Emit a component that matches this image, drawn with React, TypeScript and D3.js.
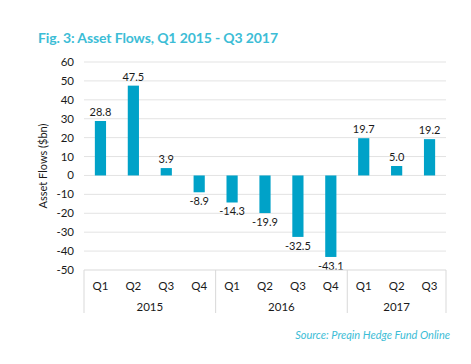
import * as d3 from "d3"
import React, { useEffect, useRef } from "react"

const quarters = ["Q1", "Q2", "Q3", "Q4", "Q1", "Q2", "Q3", "Q4", "Q1", "Q2", "Q3"]
const years = ["2015", "2015", "2015", "2015", "2016", "2016", "2016", "2016", "2017", "2017", "2017"]
const flows = [28.8, 47.5, 3.9, -8.9, -14.3, -19.9, -32.5, -43.1, 19.7, 5.0, 19.2]
const yTicks = [60, 50, 40, 30, 20, 10, 0, -10, -20, -30, -40, -50]

const W = 471
const H = 364
const margin = { left: 84, right: 25, top: 62, bottom: 94 }
const font = "Lato, 'Open Sans', sans-serif"

const App = () => {
  const ref = useRef<SVGSVGElement>(null)

  useEffect(() => {
    const svg = d3.select(ref.current)
    svg.selectAll("*").remove()

    const x = d3
      .scaleBand()
      .domain(flows.map((_, i) => String(i)))
      .range([margin.left, W - margin.right])
    const y = d3.scaleLinear().domain([-50, 60]).range([H - margin.bottom, margin.top])

    svg
      .append("text")
      .attr("x", 38)
      .attr("y", 43)
      .attr("fill", "#3cbdd6")
      .attr("font-family", font)
      .attr("font-weight", "bold")
      .attr("font-size", 14)
      .attr("textLength", 240)
      .text("Fig. 3: Asset Flows, Q1 2015 - Q3 2017")

    // grid lines
    svg
      .append("g")
      .selectAll("line")
      .data(yTicks.filter((t) => t !== -50))
      .join("line")
      .attr("x1", margin.left)
      .attr("x2", W - margin.right)
      .attr("y1", (d) => y(d))
      .attr("y2", (d) => y(d))
      .attr("stroke", "#e3e3e3")
      .attr("stroke-width", 1)

    svg
      .append("g")
      .selectAll("text")
      .data(yTicks)
      .join("text")
      .attr("x", 74)
      .attr("y", (d) => y(d))
      .attr("dy", "0.35em")
      .attr("text-anchor", "end")
      .attr("font-family", font)
      .attr("font-size", 11.5)
      .attr("fill", "#1a1a1a")
      .text((d) => d)

    svg
      .append("text")
      .attr("transform", `translate(47,${y(5)}) rotate(-90)`)
      .attr("text-anchor", "middle")
      .attr("font-family", font)
      .attr("font-size", 11)
      .attr("fill", "#1a1a1a")
      .text("Asset Flows ($bn)")

    const bw = x.bandwidth() * 0.34
    svg
      .append("g")
      .selectAll("rect")
      .data(flows)
      .join("rect")
      .attr("x", (_, i) => x(String(i))! + (x.bandwidth() - bw) / 2)
      .attr("y", (d) => y(Math.max(0, d)))
      .attr("width", bw)
      .attr("height", (d) => Math.abs(y(d) - y(0)))
      .attr("fill", "#00a2c8")

    svg
      .append("g")
      .selectAll("text")
      .data(flows)
      .join("text")
      .attr("x", (_, i) => x(String(i))! + x.bandwidth() / 2)
      .attr("y", (d) => (d >= 0 ? y(d) - 5 : y(d) + 13))
      .attr("text-anchor", "middle")
      .attr("font-family", font)
      .attr("font-size", 11)
      .attr("fill", "#1a1a1a")
      .text((d) => d.toFixed(1))

    // category axis box
    const axisTop = y(-50)
    const axisBottom = 313
    const ax = svg.append("g")
    ax.append("line")
      .attr("x1", margin.left)
      .attr("x2", W - margin.right)
      .attr("y1", axisTop)
      .attr("y2", axisTop)
      .attr("stroke", "#d9d9d9")
    const dividers = [0, 4, 8, 11].map((i) =>
      i === 11 ? W - margin.right : x(String(i))!
    )
    ax.selectAll("line.div")
      .data(dividers)
      .join("line")
      .attr("class", "div")
      .attr("x1", (d) => d)
      .attr("x2", (d) => d)
      .attr("y1", axisTop)
      .attr("y2", axisBottom)
      .attr("stroke", "#d9d9d9")

    ax.selectAll("text.q")
      .data(quarters)
      .join("text")
      .attr("class", "q")
      .attr("x", (_, i) => x(String(i))! + x.bandwidth() / 2)
      .attr("y", 290)
      .attr("text-anchor", "middle")
      .attr("font-family", font)
      .attr("font-size", 11.5)
      .attr("fill", "#1a1a1a")
      .text((d) => d)

    const yearGroups = d3.groups(
      years.map((yr, i) => ({ yr, i })),
      (d) => d.yr
    )
    ax.selectAll("text.yr")
      .data(yearGroups)
      .join("text")
      .attr("class", "yr")
      .attr("x", ([, items]) => {
        const a = x(String(items[0].i))!
        const b = x(String(items[items.length - 1].i))! + x.bandwidth()
        return (a + b) / 2
      })
      .attr("y", 311)
      .attr("text-anchor", "middle")
      .attr("font-family", font)
      .attr("font-size", 11.5)
      .attr("fill", "#1a1a1a")
      .text(([yr]) => yr)

    svg
      .append("text")
      .attr("x", 450)
      .attr("y", 339)
      .attr("text-anchor", "end")
      .attr("font-family", font)
      .attr("font-style", "italic")
      .attr("font-size", 11)
      .attr("fill", "#3cbdd6")
      .text("Source: Preqin Hedge Fund Online")
  }, [])

  return (
    <svg
      ref={ref}
      width={W}
      height={H}
      viewBox={`0 0 ${W} ${H}`}
      style={{ position: "absolute", left: 0, top: 0, background: "#fff" }}
    />
  )
}

export default App
